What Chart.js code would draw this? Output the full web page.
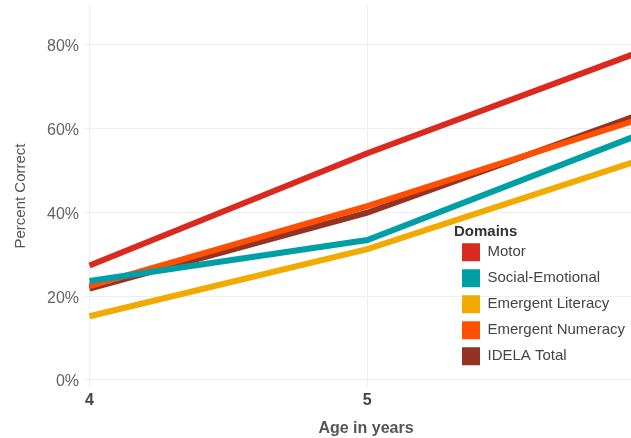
<!DOCTYPE html>
<html><head><meta charset="utf-8">
<script src="https://cdn.jsdelivr.net/npm/chart.js@4.4.1/dist/chart.umd.min.js"></script>
<style>
html,body{margin:0;padding:0;background:#fff;overflow:hidden;width:631px;height:438px}
#wrap{position:absolute;left:0;top:0;width:649px;height:438px}
</style></head>
<body><div id="wrap"><canvas id="c" width="649" height="438"></canvas></div>
<script>
const ages = [4, 5, 6];
const domains = ['Motor', 'Social-Emotional', 'Emergent Literacy', 'Emergent Numeracy', 'IDELA Total'];
const motor = [27.3, 54.1, 78.8];
const socialEmotional = [23.6, 33.4, 59.1];
const emergentLiteracy = [15.2, 31.2, 52.9];
const emergentNumeracy = [22.4, 41.5, 62.7];
const idelaTotal = [21.8, 39.9, 63.8];
const yTicks = [0, 20, 40, 60, 80];
const xTicks = [4, 5];
const colors = ['#DA2A1F', '#009FA6', '#F2A900', '#FF4F00', '#963224'];

const seriesValues = [motor, socialEmotional, emergentLiteracy, emergentNumeracy, idelaTotal];

Chart.defaults.font.family = '"Liberation Sans", Arial, sans-serif';

const moveLegend = {
  id: 'moveLegend',
  afterUpdate(chart) {
    const lg = chart.legend;
    if (!lg) return;
    lg.fit();
    lg.left = 454; lg.top = 224;
    lg.right = lg.left + lg.width; lg.bottom = lg.top + lg.height;
    lg.adjustHitBoxes();
  }
};

new Chart(document.getElementById('c'), {
  type: 'line',
  data: {
    datasets: domains.map((name, i) => ({
      label: name,
      data: ages.map((a, j) => ({x: a, y: seriesValues[i][j]})),
      borderColor: colors[i],
      backgroundColor: colors[i],
      borderWidth: 6,
      pointRadius: 0,
      pointHoverRadius: 0,
      tension: 0,
      fill: false
    }))
  },
  options: {
    responsive: false,
    animation: false,
    layout: {padding: {top: 5, left: 0, right: 0, bottom: 0}},
    scales: {
      x: {
        type: 'linear', min: 3.9766, max: 6.014,
        afterBuildTicks: s => { s.ticks = xTicks.map(v => ({value: v})); },
        afterFit: s => { s.height = 51; s.paddingLeft = 0; s.paddingRight = 0; },
        grid: {color: '#EEEEEE', lineWidth: 1, drawTicks: false},
        border: {display: false},
        ticks: {padding: 4, color: '#444', font: {size: 16, weight: 'bold'}, maxRotation: 0, autoSkip: false},
        title: {display: true, text: 'Age in years', color: '#555', font: {size: 16, weight: 'bold'}, padding: {top: 0, bottom: 0}}
      },
      y: {
        type: 'linear', min: -1.7, max: 89.5,
        afterBuildTicks: s => { s.ticks = yTicks.map(v => ({value: v})); },
        afterFit: s => { s.width = 83; s.paddingTop = 0; s.paddingBottom = 0; },
        grid: {color: '#EEEEEE', lineWidth: 1, drawTicks: false},
        border: {display: false},
        ticks: {padding: 4, labelOffset: 2, color: '#636363', font: {size: 16}, callback: v => v + '%'},
        title: {display: true, text: 'Percent Correct', color: '#555', font: {size: 15}, padding: {top: 12, bottom: 0}}
      }
    },
    plugins: {
      tooltip: {enabled: false},
      legend: {
        position: 'chartArea',
        align: 'start',
        title: {display: true, text: 'Domains', position: 'start', color: '#333', font: {size: 15, weight: 'bold', lineHeight: 0.75}, padding: 0},
        labels: {
          boxWidth: 18, boxHeight: 18, padding: 8, color: '#444', font: {size: 15},
          generateLabels: chart => Chart.defaults.plugins.legend.labels.generateLabels(chart).map(l => Object.assign(l, {lineWidth: 0}))
        }
      }
    }
  },
  plugins: [moveLegend]
});
</script>
</body></html>
